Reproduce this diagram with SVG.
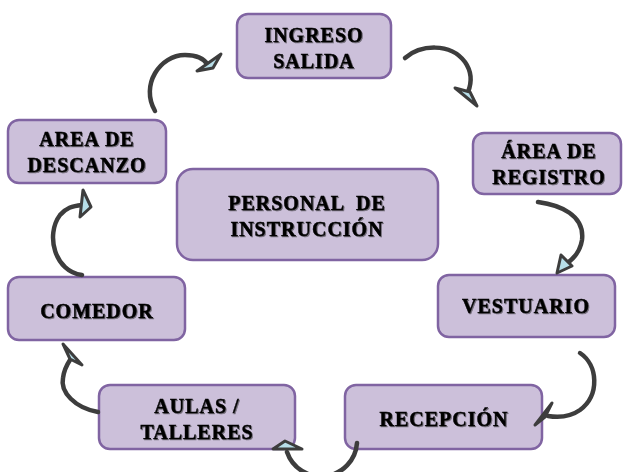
<svg xmlns="http://www.w3.org/2000/svg" width="623" height="472" viewBox="0 0 623 472">
<defs>
<style>
.box{fill:#ccc0da;stroke:#8064a2;stroke-width:2.5}
.t{font-family:"Liberation Serif","Times New Roman",serif;font-weight:bold;font-size:20px;letter-spacing:1px;fill:#000;stroke:#000;stroke-width:0.45;text-anchor:middle;filter:url(#sh)}
.arc{fill:none;stroke:#3d3d3d;stroke-width:4.5;stroke-linecap:round}
.head{fill:#b7dee8;stroke:#3d3d3d;stroke-width:3;stroke-linejoin:round}
</style>
<filter id="sh" x="-10%" y="-30%" width="120%" height="160%">
<feDropShadow dx="1" dy="1" stdDeviation="0.6" flood-color="#222" flood-opacity="0.55"/>
</filter>
</defs>
<rect width="623" height="472" fill="#fff"/>
<g id="ingreso">
<rect class="box" x="237" y="14" width="154" height="64" rx="11"/>
<text class="t" x="314" y="42">INGRESO</text>
<text class="t" x="314" y="68">SALIDA</text>
</g>
<g id="registro">
<rect class="box" x="473" y="133" width="148" height="61" rx="11"/>
<text class="t" x="549" y="158">ÁREA DE</text>
<text class="t" x="549" y="184">REGISTRO</text>
</g>
<g id="vestuario">
<rect class="box" x="438" y="275" width="177" height="62" rx="11"/>
<text class="t" x="526" y="313">VESTUARIO</text>
</g>
<g id="recepcion">
<rect class="box" x="345" y="385" width="197" height="64" rx="11"/>
<text class="t" x="444" y="426">RECEPCIÓN</text>
</g>
<g id="aulas">
<rect class="box" x="99" y="385" width="196" height="64" rx="11"/>
<text class="t" x="197" y="413">AULAS /</text>
<text class="t" x="197" y="439">TALLERES</text>
</g>
<g id="comedor">
<rect class="box" x="8" y="277" width="177" height="63" rx="11"/>
<text class="t" x="97" y="318">COMEDOR</text>
</g>
<g id="descanzo">
<rect class="box" x="8" y="120" width="158" height="63" rx="11"/>
<text class="t" x="87" y="146">AREA DE</text>
<text class="t" x="87" y="172">DESCANZO</text>
</g>
<g id="personal">
<rect class="box" x="177" y="169" width="261" height="91" rx="16"/>
<text class="t" x="307" y="210" xml:space="preserve">PERSONAL  DE</text>
<text class="t" x="307" y="236">INSTRUCCIÓN</text>
</g>
<g id="connectors">
<path class="arc" d="M155,111 C140,85 160,55 185,55 C198,55 205,60 208,65"/>
<polygon class="head" points="221,54 197,71 213,68"/>
<path class="arc" d="M405,58 C420,45 450,42 465,62 C472,72 472,82 468,92"/>
<polygon class="head" points="455,88 477,106 470,92"/>
<path class="arc" d="M538,202 C560,205 585,215 582,240 C580,252 572,260 566,264"/>
<polygon class="head" points="557,273 561,255 572,266"/>
<path class="arc" d="M580,353 C598,365 600,395 580,410 C570,417 560,418 548,416"/>
<polygon class="head" points="535,425 552,403 545,417"/>
<path class="arc" d="M357,443 A36,36 0 0 1 287,452"/>
<polygon class="head" points="285,441 273,449 302,449"/>
<path class="arc" d="M98,412 C75,408 60,392 63,378 C64,370 66,366 70,360"/>
<polygon class="head" points="63,344 82,365 70,359"/>
<path class="arc" d="M82,275 C55,272 45,235 60,215 C66,208 72,206 82,205"/>
<polygon class="head" points="83,190 80,217 91,207"/>
</g>
</svg>
